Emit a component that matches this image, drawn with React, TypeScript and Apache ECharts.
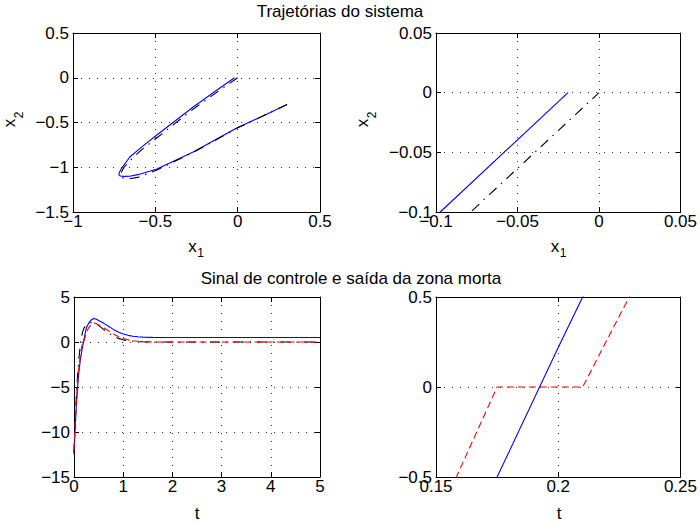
import React, { useEffect, useRef } from "react";
import * as echarts from "echarts";

// ---- Data: phase-plane trajectories (x1, x2) ----
const blueX = [0.3, 0.15, 0, -0.27, -0.49, -0.6, -0.655, -0.69, -0.712, -0.722, -0.718, -0.706, -0.655, -0.58, -0.493, -0.27, -0.0974, -0.019];
const blueY = [-0.3, -0.43, -0.557, -0.83, -1.02, -1.08, -1.1, -1.102, -1.098, -1.085, -1.055, -1.015, -0.885, -0.77, -0.643, -0.327, -0.1, 0];
const blackX = [0.3, 0.15, 0, -0.27, -0.49, -0.6, -0.66, -0.69, -0.706, -0.712, -0.705, -0.69, -0.64, -0.58, -0.49, -0.27, -0.0787, 0];
const blackY = [-0.3, -0.43, -0.56, -0.835, -1.03, -1.11, -1.13, -1.125, -1.11, -1.085, -1.05, -1.0, -0.9, -0.8, -0.67, -0.35, -0.1, 0];

// ---- Data: control signal and dead-zone output vs time ----
const tGrid = [0, 0.025, 0.05, 0.075, 0.1, 0.125, 0.15, 0.175, 0.2, 0.21, 0.25, 0.3, 0.35, 0.4, 0.45, 0.5, 0.6, 0.7, 0.8, 0.9, 1.0, 1.1, 1.2, 1.3, 1.4, 1.6, 1.8, 2.0, 2.5, 3, 4, 5];
const uBlue = [-12.5, -9.4, -6.9, -4.9, -3.3, -2.15, -1.25, -0.5, 0.22, 0.5, 1.55, 2.1, 2.45, 2.6, 2.55, 2.4, 2.1, 1.75, 1.4, 1.1, 0.88, 0.74, 0.64, 0.58, 0.54, 0.51, 0.5, 0.5, 0.5, 0.5, 0.5, 0.5];
const vRed = [-12.0, -8.9, -6.4, -4.4, -2.8, -1.65, -0.75, 0, 0, 0, 1.05, 1.6, 1.95, 2.1, 2.05, 1.9, 1.6, 1.25, 0.9, 0.6, 0.38, 0.24, 0.14, 0.08, 0.04, 0.01, 0, 0, 0, 0, 0, 0];
const wBlack = [-12.3, -8.6, -5.8, -3.5, -1.8, -0.5, 0.55, 1.1, 1.5, 1.6, 1.9, 2.05, 2.15, 2.15, 2.05, 1.85, 1.4, 0.98, 0.64, 0.4, 0.24, 0.14, 0.08, 0.04, 0.02, 0, 0, 0, 0, 0, 0, 0];

// ---- Axis ranges / tick intervals per panel ----
const panelX = [
  { min: -1, max: 0.5, interval: 0.5 },
  { min: -0.1, max: 0.05, interval: 0.05 },
  { min: 0, max: 5, interval: 1 },
  { min: 0.15, max: 0.25, interval: 0.05 },
];
const panelY = [
  { min: -1.5, max: 0.5, interval: 0.5 },
  { min: -0.1, max: 0.05, interval: 0.05 },
  { min: -15, max: 5, interval: 5 },
  { min: -0.5, max: 0.5, interval: 0.5 },
];

const titles = ["Trajetórias do sistema", "Sinal de controle e saída da zona morta"];

const FONT = "'Liberation Sans', Arial, Helvetica, sans-serif";

const fmt = (v: number) => String(parseFloat(Number(v).toFixed(6))).replace("-", "\u2212");

const zip = (a: number[], b: number[]) => a.map((x, i) => [x, b[i]]);

export default function App() {
  const ref = useRef<HTMLDivElement>(null);

  useEffect(() => {
    document.body.style.margin = "0";
    if (!ref.current) return;
    const chart = echarts.init(ref.current, null, { renderer: "svg" });

    const grids = [
      { left: 73, top: 33, width: 247, height: 179 },
      { left: 436, top: 33, width: 246, height: 179 },
      { left: 74, top: 297, width: 246, height: 180 },
      { left: 436, top: 297, width: 246, height: 180 },
    ];

    const dotted = { color: "#333", width: 1, type: [1, 7] as any };
    const xAxes: any[] = [];
    const yAxes: any[] = [];
    for (let i = 0; i < 4; i++) {
      const px = panelX[i];
      const py = panelY[i];
      xAxes.push({
        type: "value", gridIndex: i, position: "bottom", ...px,
        axisLine: { show: true, onZero: false, lineStyle: { color: "#000", width: 1 } },
        axisTick: { show: true, inside: true, length: 5, lineStyle: { color: "#000" } },
        axisLabel: { show: true, color: "#000", fontSize: 17, fontFamily: FONT, margin: 1, formatter: fmt },
        splitLine: { show: true, lineStyle: dotted },
      });
      xAxes.push({
        type: "value", gridIndex: i, position: "top", ...px,
        axisLine: { show: true, onZero: false, lineStyle: { color: "#000", width: 1 } },
        axisTick: { show: true, inside: true, length: 5, lineStyle: { color: "#000" } },
        axisLabel: { show: false },
        splitLine: { show: false },
      });
      yAxes.push({
        type: "value", gridIndex: i, position: "left", ...py,
        axisLine: { show: true, onZero: false, lineStyle: { color: "#000", width: 1 } },
        axisTick: { show: true, inside: true, length: 5, lineStyle: { color: "#000" } },
        axisLabel: { show: true, color: "#000", fontSize: 17, fontFamily: FONT, margin: 4, formatter: fmt },
        splitLine: { show: true, lineStyle: dotted },
      });
      yAxes.push({
        type: "value", gridIndex: i, position: "right", ...py,
        axisLine: { show: true, onZero: false, lineStyle: { color: "#000", width: 1 } },
        axisTick: { show: true, inside: true, length: 5, lineStyle: { color: "#000" } },
        axisLabel: { show: false },
        splitLine: { show: false },
      });
    }

    const trajBlue = zip(blueX, blueY);
    const trajBlack = zip(blackX, blackY);
    const sigBlue = zip(tGrid, uBlue);
    const sigRed = zip(tGrid, vRed);
    const sigBlack = zip(tGrid, wBlack);

    const dashDot = [10, 6, 1.5, 6];
    const dashed = [7, 4];

    const mk = (g: number, data: number[][], color: string, type: any, z: number) => ({
      type: "line",
      xAxisIndex: 2 * g,
      yAxisIndex: 2 * g,
      data,
      showSymbol: false,
      symbol: "none",
      clip: true,
      z,
      lineStyle: { color, width: 1.1, type },
    });

    const series = [
      mk(0, trajBlue, "#0000ff", "solid", 2),
      mk(0, trajBlack, "#000000", dashDot, 3),
      mk(1, trajBlue, "#0000ff", "solid", 2),
      mk(1, trajBlack, "#000000", dashDot, 3),
      mk(2, sigBlue, "#0000ff", "solid", 2),
      mk(2, sigBlack, "#000000", dashDot, 3),
      mk(2, sigRed, "#ff0000", dashed, 4),
      mk(3, sigBlue, "#0000ff", "solid", 2),
      mk(3, sigBlack, "#000000", dashDot, 3),
      mk(3, sigRed, "#ff0000", dashed, 4),
    ];

    const txt = (text: string, x: number, y: number, size: number, rotation = 0) => ({
      type: "text",
      x,
      y,
      rotation,
      silent: true,
      style: {
        text,
        fill: "#000",
        fontSize: size,
        fontFamily: FONT,
        textAlign: "center",
        textVerticalAlign: "middle",
        align: "center",
        verticalAlign: "middle",
      },
    });

    const graphic = [
      txt(titles[0], 340, 11.5, 17),
      txt(titles[1], 351, 278, 17),
      // x1 labels
      txt("x", 192.5, 246, 17),
      txt("1", 200.5, 252.5, 12),
      txt("x", 555, 246, 17),
      txt("1", 563, 252.5, 12),
      // x2 labels (rotated)
      txt("x", 9.5, 123, 17, Math.PI / 2),
      txt("2", 19, 115, 12, Math.PI / 2),
      txt("x", 362, 123, 17, Math.PI / 2),
      txt("2", 371.5, 115, 12, Math.PI / 2),
      // t labels
      txt("t", 197, 513, 17),
      txt("t", 559, 513, 17),
    ];

    chart.setOption({
      animation: false,
      backgroundColor: "#ffffff",
      textStyle: { fontFamily: FONT },
      grid: grids,
      xAxis: xAxes,
      yAxis: yAxes,
      series,
      graphic,
    });

    return () => chart.dispose();
  }, []);

  return <div ref={ref} style={{ width: 700, height: 523 }} />;
}
